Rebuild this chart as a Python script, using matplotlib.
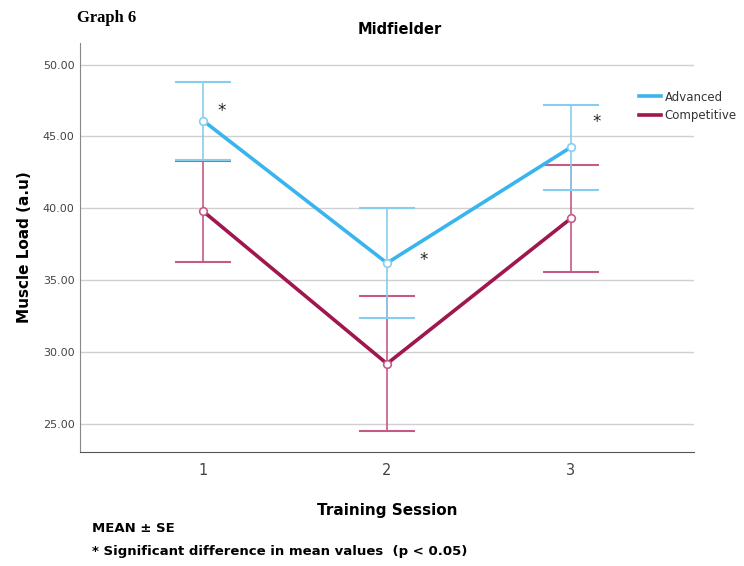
import matplotlib.pyplot as plt
import numpy as np

# dados
sessoes = [1, 2, 3]
advanced_media = [46.1, 36.2, 44.25]
advanced_se = [2.7, 3.8, 2.95]
competitive_media = [39.8, 29.2, 39.3]
competitive_se = [3.5, 4.7, 3.7]
estrelas_x = [1.10, 2.20, 3.14]
estrelas_y = [46.8, 36.4, 46.0]
yticks = [25, 30, 35, 40, 45, 50]

azul = '#3AB4EE'
azul_claro = '#86CDF0'
vinho = '#A0164E'
vinho_claro = '#C45A86'

fig = plt.figure(figsize=(7.44, 5.66), dpi=100)
ax = fig.add_axes([0.1075, 0.2014, 0.8253, 0.7226])

#barras de erro
ax.errorbar(sessoes, competitive_media, yerr=competitive_se, fmt='none',
            ecolor=vinho_claro, elinewidth=1.2, capsize=20, capthick=1.5, zorder=2)
ax.errorbar(sessoes, advanced_media, yerr=advanced_se, fmt='none',
            ecolor=azul_claro, elinewidth=1.2, capsize=20, capthick=1.5, zorder=2)

#linhas
ax.plot(sessoes, advanced_media, color=azul, linewidth=2.6, label='Advanced', zorder=3)
ax.plot(sessoes, competitive_media, color=vinho, linewidth=2.6, label='Competitive', zorder=3)
ax.plot(sessoes, advanced_media, 'o', markersize=5.5, markerfacecolor='white',
        markeredgecolor=azul_claro, markeredgewidth=1.2, zorder=4)
ax.plot(sessoes, competitive_media, 'o', markersize=5.5, markerfacecolor='white',
        markeredgecolor=vinho_claro, markeredgewidth=1.2, zorder=4)

for x, y in zip(estrelas_x, estrelas_y):
    ax.text(x, y, '*', fontsize=12, ha='center', va='center', color='#222222')

ax.set_xlim(0.33, 3.67)
ax.set_ylim(23.06, 51.5)
ax.set_xticks(sessoes)
ax.set_xticklabels([str(s) for s in sessoes], fontsize=10.5, color='#444444')
ax.set_yticks(yticks)
ax.set_yticklabels(['%.2f' % v for v in yticks], fontsize=8, color='#444444')
ax.tick_params(axis='both', length=0, pad=8)
ax.tick_params(axis='y', pad=4)
ax.grid(axis='y', color='#D0D0D0', linewidth=1)
ax.set_axisbelow(True)
ax.spines['top'].set_visible(False)
ax.spines['right'].set_visible(False)
ax.spines['left'].set_color('#888888')
ax.spines['bottom'].set_color('#555555')

ax.set_ylabel('Muscle Load (a.u)', fontsize=11, fontweight='bold', labelpad=8)
ax.set_xlabel('Training Session', fontsize=11, fontweight='bold', labelpad=18)

leg = fig.legend(loc='upper left', bbox_to_anchor=(628 / 744, 1 - 80 / 566), frameon=False,
                 fontsize=8.5, handlelength=1.9, handletextpad=0.3, labelspacing=0.45)
for t in leg.get_texts():
    t.set_color('#333333')

fig.text(400 / 744, 1 - 30 / 566, 'Midfielder', fontsize=10.5, fontweight='bold',
         ha='center', va='center')
fig.text(77 / 744, 1 - 18 / 566, 'Graph 6', fontsize=12, fontweight='bold',
         family='Liberation Serif', ha='left', va='center')
fig.text(92 / 744, 1 - 528 / 566, 'MEAN ± SE', fontsize=9.5, fontweight='bold',
         ha='left', va='center')
fig.text(92 / 744, 1 - 551 / 566, '* Significant difference in mean values  (p < 0.05)',
         fontsize=9.5, fontweight='bold', ha='left', va='center')

plt.savefig('out.png', dpi=100)
